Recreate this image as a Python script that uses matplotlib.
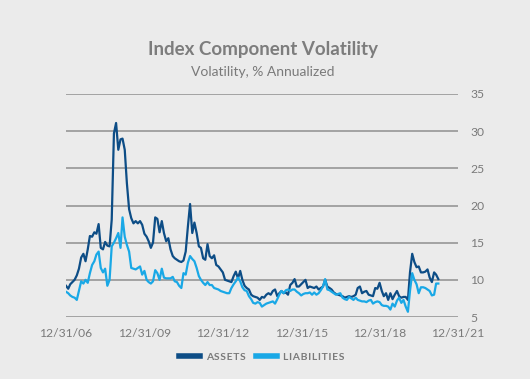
import matplotlib
matplotlib.use("Agg")
import matplotlib.pyplot as plt
from matplotlib.lines import Line2D
import pandas as pd

start_month = "2006-12-31"
assets = [
    9.2, 8.8, 9.4, 9.7, 10.0, 10.6, 11.5, 13.0, 13.5, 12.5, 14.1, 15.9,
    15.8, 16.4, 16.2, 17.5, 14.3, 14.1, 15.1, 14.6, 14.5, 18.1, 29.7, 31.1,
    27.5, 28.9, 29.0, 27.5, 23.0, 19.5, 18.3, 17.6, 17.9, 17.6, 17.9, 17.4,
    16.2, 15.8, 15.2, 14.3, 15.0, 18.4, 18.2, 16.4, 17.9, 16.3, 15.2, 15.6,
    14.1, 13.2, 12.9, 12.7, 12.5, 12.4, 12.6, 13.8, 17.2, 20.2, 16.3, 17.7,
    16.3, 14.5, 14.3, 12.9, 12.7, 14.8, 13.2, 12.9, 13.3, 12.0, 11.8, 11.4,
    11.0, 10.0, 9.9, 9.8, 9.7, 10.5, 11.1, 10.2, 11.2, 10.0, 9.2, 8.9,
    8.7, 8.0, 7.8, 7.7, 7.6, 7.3, 7.7, 7.6, 8.0, 8.2, 8.0, 8.5,
    8.7, 7.8, 8.2, 8.5, 8.2, 8.3, 8.0, 9.3, 9.6, 10.1, 9.1, 9.1,
    9.4, 9.7, 10.0, 8.9, 9.1, 9.0, 8.9, 9.1, 8.7, 8.9, 9.1, 10.0,
    9.1, 8.9, 8.7, 8.3, 8.1, 8.0, 7.9, 7.8, 7.6, 7.7, 7.8, 7.7,
    7.8, 8.0, 8.9, 9.1, 8.2, 8.4, 8.5, 8.0, 7.9, 7.8, 8.9, 8.8,
    9.6, 8.5, 7.8, 8.2, 7.3, 8.2, 7.4, 8.0, 8.5, 7.8, 7.6, 7.7,
    7.7, 7.3, 11.0, 13.5, 12.4, 11.7, 11.8, 11.0, 11.0, 11.1, 11.4, 10.3,
    9.7, 11.0, 10.7, 10.1,
]
liabilities = [
    8.4, 8.2, 7.9, 7.7, 7.6, 7.3, 8.5, 9.8, 9.5, 10.0, 9.6, 10.9,
    12.0, 12.5, 13.4, 13.8, 11.6, 11.0, 11.5, 9.2, 10.0, 14.5, 15.0, 15.6,
    16.3, 14.3, 18.4, 15.8, 14.7, 13.8, 11.6, 11.5, 11.4, 11.6, 11.8, 10.7,
    11.2, 10.0, 9.7, 9.5, 9.8, 11.3, 10.9, 10.0, 11.5, 10.3, 10.2, 10.2,
    10.2, 10.4, 9.8, 9.7, 9.2, 8.9, 10.9, 10.7, 12.3, 13.2, 12.8, 12.5,
    11.6, 10.5, 10.0, 9.6, 9.3, 9.7, 9.3, 9.3, 8.9, 8.8, 8.7, 8.5,
    8.4, 8.3, 8.2, 8.2, 8.9, 9.4, 9.8, 10.3, 9.8, 9.0, 8.6, 8.5,
    7.8, 7.4, 6.9, 6.8, 7.0, 6.9, 6.4, 6.6, 6.8, 6.9, 7.0, 7.1,
    6.8, 7.4, 8.0, 8.5, 8.2, 8.6, 8.7, 8.5, 8.7, 8.7, 8.4, 8.2,
    7.9, 8.1, 8.2, 8.2, 8.3, 8.0, 8.3, 8.0, 8.2, 8.6, 9.1, 10.1,
    8.7, 8.6, 8.4, 8.2, 8.0, 8.1, 8.2, 7.6, 7.4, 7.3, 7.7, 7.5,
    7.3, 7.6, 7.3, 7.2, 7.1, 7.1, 7.0, 7.2, 7.3, 6.8, 7.0, 7.1,
    7.0, 6.6, 6.5, 6.5, 6.4, 6.0, 6.8, 6.4, 7.2, 7.6, 6.9, 7.3,
    6.4, 5.7, 8.5, 10.9, 10.0, 9.4, 8.2, 9.0, 9.0, 8.9, 8.7, 8.5,
    7.9, 8.0, 9.5, 9.5,
]
tick_dates = ["2006-12-31", "2009-12-31", "2012-12-31", "2015-12-31", "2018-12-31", "2021-12-31"]
tick_labels = ["12/31/06", "12/31/09", "12/31/12", "12/31/15", "12/31/18", "12/31/21"]
y_ticks = [5, 10, 15, 20, 25, 30, 35]
series_names = ["ASSETS", "LIABILITIES"]

dates = pd.date_range(start_month, periods=len(assets), freq="ME")

BG = "#ebebeb"
C_ASSETS = "#0d4d86"
C_LIAB = "#19a8e6"
TXT = "#7a7a7a"
FONT = "Lato"

fig = plt.figure(figsize=(5.30, 3.79), dpi=100, facecolor=BG)
ax = fig.add_axes([66/530, 1-317/379, (458-66)/530, (317-94)/379], facecolor=BG)

ax.plot(dates, assets, color=C_ASSETS, lw=1.6, zorder=3, solid_joinstyle="round")
ax.plot(dates, liabilities, color=C_LIAB, lw=1.6, zorder=3, solid_joinstyle="round")

ax.set_ylim(5, 35)
ax.set_xlim(pd.Timestamp(tick_dates[0]), pd.Timestamp(tick_dates[-1]))
ax.set_yticks(y_ticks)
ax.yaxis.tick_right()
ax.grid(axis="y", color="#a3a3a3", lw=1.4, zorder=1)
ax.set_xticks([pd.Timestamp(d) for d in tick_dates])
ax.set_xticklabels(tick_labels)
for s in ax.spines.values():
    s.set_visible(False)
ax.tick_params(axis="both", length=0, labelsize=8.7, labelcolor=TXT)
ax.tick_params(axis="y", pad=9)
ax.tick_params(axis="x", pad=8)
for lab in ax.get_xticklabels() + ax.get_yticklabels():
    lab.set_fontfamily(FONT)

fig.text(263/530, 1-49/379, "Index Component Volatility", ha="center", va="center",
         fontsize=13.5, fontweight="bold", color="#7d7d7d", family=FONT)
fig.text(263/530, 1-72/379, "Volatility, % Annualized", ha="center", va="center",
         fontsize=10, color=TXT, family=FONT)

spaced = ["\u200a".join(n) for n in series_names]
handles = [Line2D([], [], color=C_ASSETS, lw=4), Line2D([], [], color=C_LIAB, lw=4)]
leg = fig.legend(handles, spaced, loc="center", bbox_to_anchor=(262/530, 1-357/379),
                 ncol=2, frameon=False, handlelength=2.0, columnspacing=1.0, handletextpad=0.6,
                 prop={"family": [FONT, "DejaVu Sans"], "weight": "bold", "size": 7.5})
for t in leg.get_texts():
    t.set_color(TXT)

fig.savefig("out.png", dpi=100, facecolor=BG)
